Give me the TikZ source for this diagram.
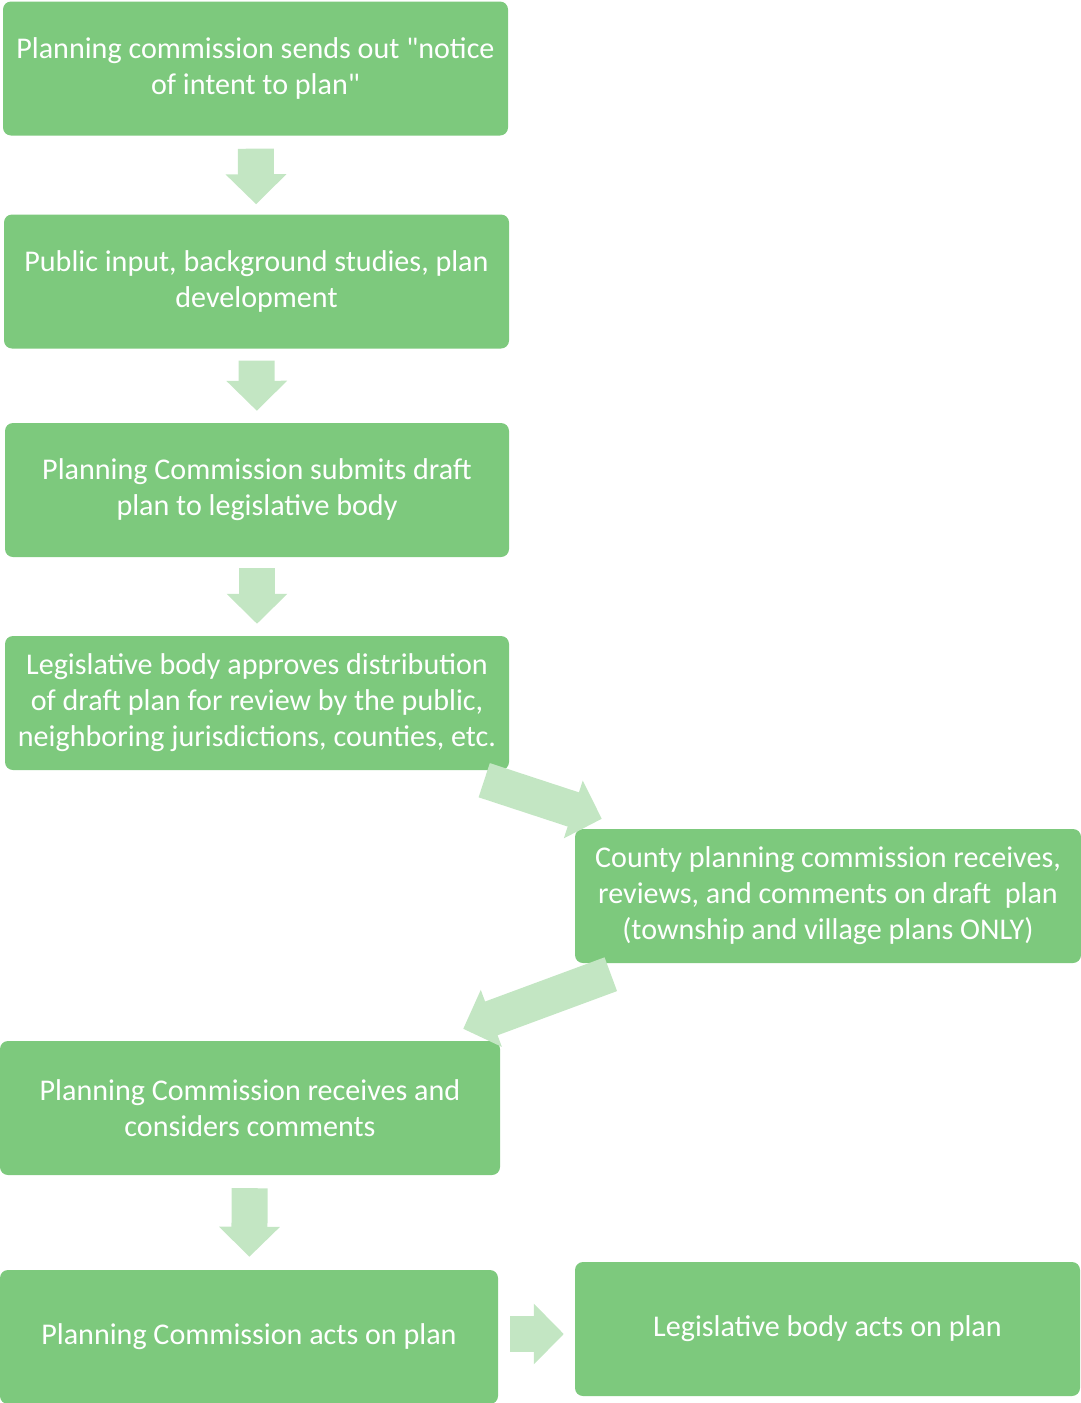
\documentclass[tikz,border=0pt]{standalone}
\usepackage{fontspec}
\setmainfont{Carlito}
\usetikzlibrary{arrows.meta}
\definecolor{boxgreen}{HTML}{7DC97D}
\definecolor{arrowgreen}{HTML}{C3E6C3}
\tikzset{
  stage/.style={rectangle, rounded corners=8pt, fill=boxgreen, text=white, align=center,
    inner sep=0pt, minimum height=134pt, font=\fontsize{30.1}{36}\selectfont},
  flow/.style={draw=arrowgreen, line width=36pt, -{Triangle[length=30pt,width=59pt]}}
}
\begin{document}
\begin{tikzpicture}[x=1pt,y=-1pt]
\useasboundingbox (0,0) rectangle (1081,1403);
% steps of the plan
\node[stage, minimum width=505pt] (notice) at (255.5,68.5) {Planning commission sends out \textquotedbl notice\\of intent to plan\textquotedbl};
\node[stage, minimum width=505pt] (input) at (256.5,281.5) {Public input, background studies, plan\\development};
\node[stage, minimum width=504pt] (submit) at (257,490) {Planning Commission submits draft\\plan to legislative body};
\node[stage, minimum width=504pt] (approve) at (257,703) {Legislative body approves distribution\\of draft plan for review by the public,\\neighboring jurisdictions, counties, etc.};
\node[stage, minimum width=506pt] (county) at (828,896) {County planning commission receives,\\reviews, and comments on draft~ plan\\(township and village plans ONLY)};
\node[stage, minimum width=500pt] (consider) at (250,1108) {Planning Commission receives and\\considers comments};
\node[stage, minimum width=498pt] (pcacts) at (249,1337) {Planning Commission acts on plan};
\node[stage, minimum width=505pt] (lbacts) at (827.5,1329) {Legislative body acts on plan};
% arrows
\draw[flow, shorten <=13pt, shorten >=10pt] (notice) -- (input);
\draw[flow, shorten <=12pt, shorten >=12pt] (input) -- (submit);
\draw[flow, shorten <=11pt, shorten >=12pt] (submit) -- (approve);
\draw[flow] ([shift={(-25,10)}]approve.south east) -- ([shift={(27,-10)}]county.north west);
\draw[flow] ([shift={(36,11)}]county.south west) -- ([shift={(-37,-12)}]consider.north east);
\draw[flow, shorten <=13pt, shorten >=13pt] (consider) -- (pcacts);
\draw[flow, shorten <=12pt, shorten >=11pt] ([yshift=3pt]pcacts.east) -- ([yshift=3pt]pcacts.east -| lbacts.west);
\end{tikzpicture}
\end{document}
